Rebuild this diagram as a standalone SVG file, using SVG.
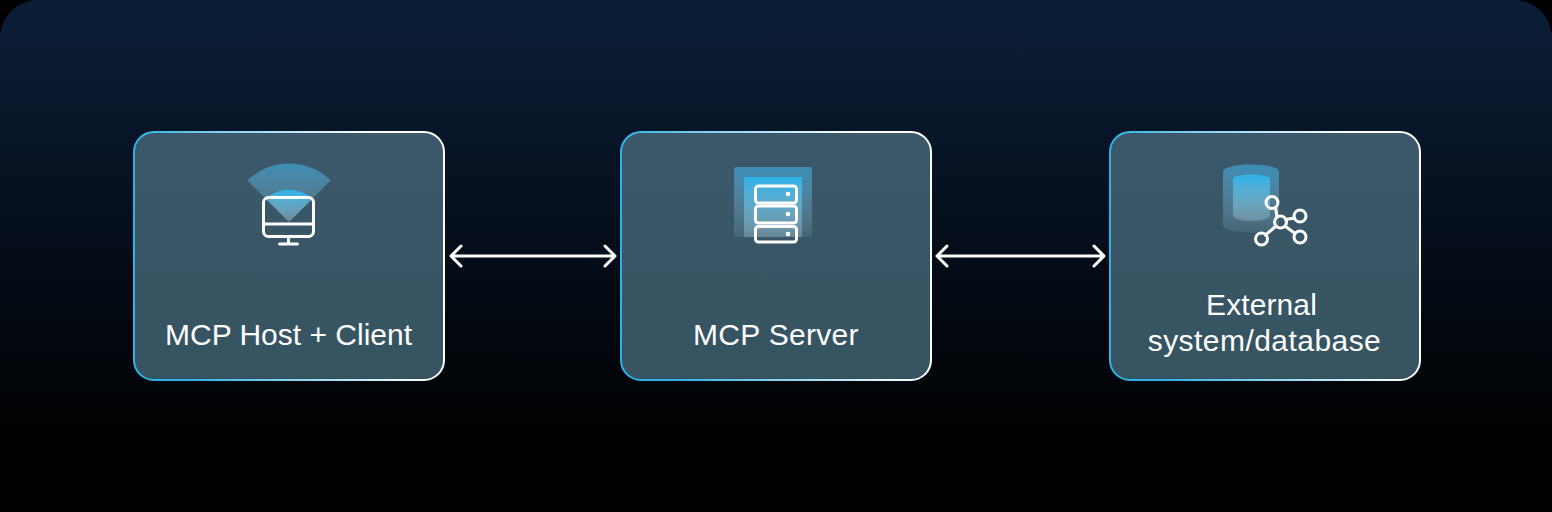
<svg xmlns="http://www.w3.org/2000/svg" width="1552" height="512" viewBox="0 0 1552 512">
<style>
text{font-family:"Liberation Sans",Arimo,sans-serif;font-size:30px;fill:#fff;text-anchor:middle}
.card{fill:url(#cardFill);stroke:url(#edge);stroke-width:2}
.line{fill:none;stroke:#fff;stroke-width:3;stroke-linecap:round;stroke-linejoin:round}
.conn{fill:none;stroke:#fff;stroke-width:3;stroke-linecap:round;stroke-linejoin:round}
</style>
<defs>
<linearGradient id="bg" x1="0" y1="0" x2="0" y2="1"><stop offset="0" stop-color="#0b1e38"/><stop offset=".88" stop-color="#000"/></linearGradient>
<linearGradient id="cardFill" x1="0" y1="0" x2="0" y2="1"><stop offset="0" stop-color="#3b596b"/><stop offset="1" stop-color="#365360"/></linearGradient>
<linearGradient id="edge" x1="0" y1=".6" x2="1" y2=".4"><stop offset=".1" stop-color="#2fb2e8"/><stop offset=".85" stop-color="#fff"/></linearGradient>
<linearGradient id="fadeOuter" x1="0" y1="0" x2="0" y2="1"><stop offset="0" stop-color="#3c8db5"/><stop offset="1" stop-color="#7fa5b8" stop-opacity=".18"/></linearGradient>
<linearGradient id="fadeInner" x1="0" y1="0" x2="0" y2="1"><stop offset="0" stop-color="#2fb2e8"/><stop offset="1" stop-color="#a5c8d8" stop-opacity=".35"/></linearGradient>
</defs>
<rect width="1552" height="512" fill="#000"/>
<rect width="1552" height="512" rx="38" fill="url(#bg)"/>
<g id="connectors">
<path class="conn" d="M451 256H615M461 246L451 256L461 266M605 246L615 256L605 266"/>
<path class="conn" d="M937 256H1104M947 246L937 256L947 266M1094 246L1104 256L1094 266"/>
</g>
<g id="host">
<rect class="card" x="134" y="132" width="310" height="248" rx="20"/>
<path fill="url(#fadeOuter)" d="M247.500 180.500A59 59 0 0 1 330.500 180.500L289 222Z"/>
<path fill="url(#fadeInner)" d="M266 199A33 33 0 0 1 312 199L289 222Z"/>
<rect class="line" x="263.500" y="197.500" width="50" height="39" rx="5"/>
<path class="line" d="M264 224H313M288.500 237V244M279.500 244H297.500"/>
<text x="288.500" y="345">MCP Host + Client</text>
</g>
<g id="server">
<rect class="card" x="621" y="132" width="310" height="248" rx="20"/>
<path fill="url(#fadeOuter)" d="M736 167H810a2 2 0 0 1 2 2V237H734V169a2 2 0 0 1 2-2Z"/>
<rect x="744" y="177" width="58" height="60" fill="url(#fadeInner)"/>
<rect class="line" x="755.500" y="186" width="41" height="17" rx="3"/>
<rect class="line" x="755.500" y="206" width="41" height="17" rx="3"/>
<rect class="line" x="755.500" y="226.500" width="41" height="15.500" rx="3"/>
<circle cx="788" cy="194" r="2.300" fill="#fff"/>
<circle cx="788" cy="214" r="2.300" fill="#fff"/>
<circle cx="788" cy="234" r="2.300" fill="#fff"/>
<text x="776" y="345" letter-spacing=".3">MCP Server</text>
</g>
<g id="external">
<rect class="card" x="1110" y="132" width="310" height="248" rx="20"/>
<path fill="url(#fadeOuter)" d="M1223 172C1223 162 1279 162 1279 172V225C1279 235 1223 235 1223 225Z"/>
<path fill="url(#fadeInner)" d="M1233 179C1233 173 1270 173 1270 179V215C1270 223 1233 223 1233 215Z"/>
<path class="line" d="M1275.500 207.500L1277 217M1285.500 219.500L1294.500 218M1285 226L1295 233.500M1275.500 226.500L1265.500 235"/>
<circle class="line" cx="1280.500" cy="222" r="6"/>
<circle class="line" cx="1272" cy="202.500" r="6"/>
<circle class="line" cx="1300" cy="216" r="6"/>
<circle class="line" cx="1300" cy="237" r="6"/>
<circle class="line" cx="1261.500" cy="239" r="6"/>
<text x="1261.500" y="315" letter-spacing=".1">External</text>
<text x="1264.500" y="351" letter-spacing=".45">system/database</text>
</g>
</svg>
